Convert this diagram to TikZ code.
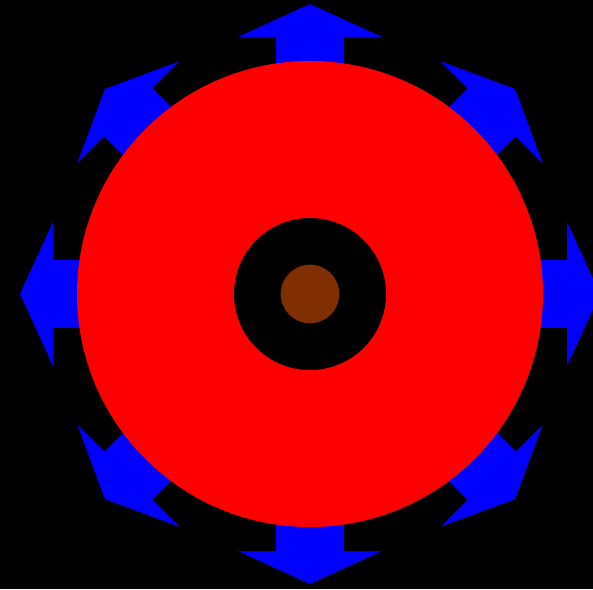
\documentclass[tikz,border=0pt]{standalone}
\definecolor{darkbrown}{RGB}{128,48,0}
\tikzset{
  arrowshape/.style={fill=blue, draw=none},
  ring/.style={draw=none}
}
\begin{document}
\begin{tikzpicture}[x=1pt,y=1pt]
\fill[black] (0,0) rectangle (593,589);
\useasboundingbox (0,0) rectangle (593,589);
\coordinate (c) at (310,295);
\foreach \a in {0,45,...,315} {
  \fill[arrowshape, shift={(c)}, rotate=\a]
    (-34,0) -- (-34,257) -- (-72,257) -- (0,290) -- (72,257) -- (34,257) -- (34,0) -- cycle;
}
\fill[red] (c) circle (233);
\fill[black] (c) circle (76);
\fill[darkbrown] (c) circle (29.3);
\end{tikzpicture}
\end{document}
